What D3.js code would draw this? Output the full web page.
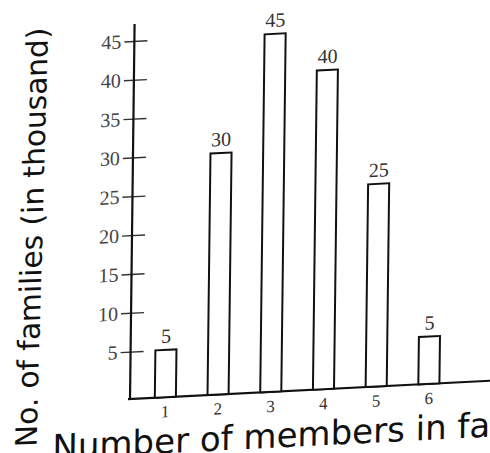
<!DOCTYPE html>
<html>
<head>
<meta charset="utf-8">
<script src="https://cdn.jsdelivr.net/npm/d3@7"></script>
<style>
  html, body { margin: 0; padding: 0; background: #fff; }
  svg { display: block; }
</style>
</head>
<body>
<svg width="490" height="453"></svg>
<script>
var categories = ["1", "2", "3", "4", "5", "6"];
var families = [5, 30, 45, 40, 25, 5];
var yTicks = [5, 10, 15, 20, 25, 30, 35, 40, 45];

var svg = d3.select("svg"),
    width = +svg.attr("width"),
    height = +svg.attr("height");

var x0 = 130,      // y axis position
    base = 399;    // x axis line

// the scan is a bit skewed, so tilt the whole chart
var g = svg.append("g")
    .attr("transform", "translate(" + x0 + "," + base + ") rotate(0.7) skewY(-3.6) translate(" + (-x0) + "," + (-base) + ")");

var x = d3.scaleBand()
    .domain(categories)
    .range([139, 455])
    .paddingInner(0.6)
    .paddingOuter(0.3);

var y = d3.scaleLinear()
    .domain([0, 45])
    .range([390.5, 40.9]);

// y axis ticks crossing the axis line
var yAxis = g.append("g")
    .attr("transform", "translate(" + x0 + ",0)")
    .call(d3.axisLeft(y).tickValues(yTicks).tickSize(10).tickPadding(3));

yAxis.select(".domain").remove();
yAxis.selectAll(".tick line")
    .attr("x1", 13)
    .attr("stroke", "#333")
    .attr("stroke-width", 1.4);
yAxis.selectAll(".tick text")
    .attr("fill", "#444")
    .style("font-family", "'Liberation Serif', serif")
    .style("font-size", "20px");

// axis lines
g.append("line")
    .attr("x1", x0).attr("x2", x0)
    .attr("y1", base + 1).attr("y2", 24)
    .attr("stroke", "#111")
    .attr("stroke-width", 2.2);

g.append("line")
    .attr("x1", x0 - 2).attr("x2", 540)
    .attr("y1", base).attr("y2", base)
    .attr("stroke", "#111")
    .attr("stroke-width", 2.2);

// x tick labels
var xAxis = g.append("g")
    .attr("transform", "translate(0," + base + ")")
    .call(d3.axisBottom(x).tickSize(0).tickPadding(8));

xAxis.select(".domain").remove();
xAxis.selectAll(".tick text")
    .attr("fill", "#333")
    .style("font-family", "'Liberation Serif', serif")
    .style("font-size", "17px");

// bars
g.append("g")
    .selectAll("rect")
    .data(families)
    .enter()
        .append("rect")
        .attr("x", function(d, i) { return x(categories[i]); })
        .attr("y", function(d) { return y(d); })
        .attr("width", x.bandwidth())
        .attr("height", function(d) { return base - y(d); })
        .attr("fill", "#fff")
        .attr("stroke", "#111")
        .attr("stroke-width", 2);

// value labels on top of bars
g.append("g")
    .selectAll("text")
    .data(families)
    .enter()
        .append("text")
        .attr("x", function(d, i) { return x(categories[i]) + x.bandwidth() / 2; })
        .attr("y", function(d) { return y(d) - 7; })
        .attr("text-anchor", "middle")
        .attr("fill", "#333")
        .style("font-family", "'Liberation Serif', serif")
        .style("font-size", "20px")
        .text(function(d) { return d; });

// axis titles
g.append("text")
    .attr("transform", "translate(37,442) rotate(-89.1)")
    .attr("fill", "#111")
    .style("font-family", "'DejaVu Sans', sans-serif")
    .style("font-size", "29.6px")
    .text("No. of families (in thousand)");

g.append("text")
    .attr("x", 53)
    .attr("y", 455)
    .attr("fill", "#111")
    .style("font-family", "'DejaVu Sans', sans-serif")
    .style("font-size", "34px")
    .text("Number of members in family");
</script>
</body>
</html>
